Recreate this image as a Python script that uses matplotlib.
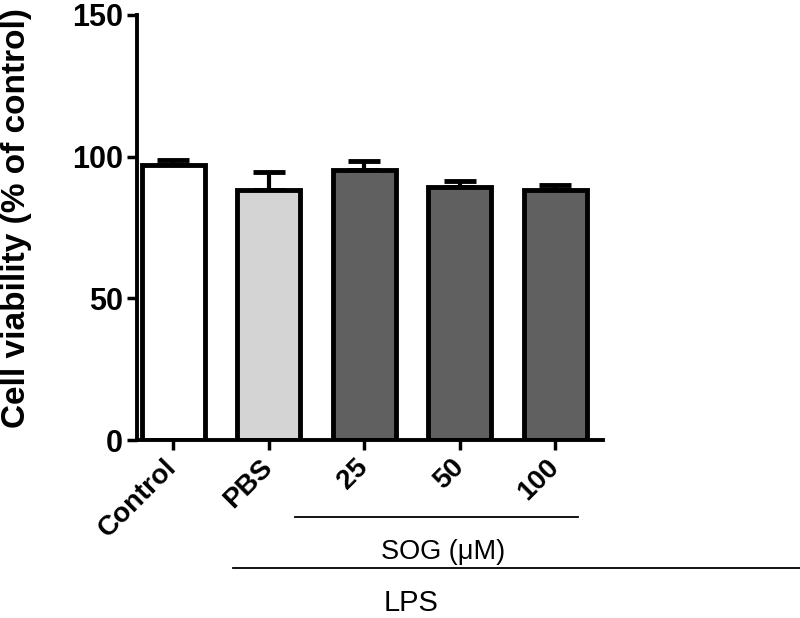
import matplotlib
matplotlib.use("Agg")
import matplotlib.pyplot as plt

categories = ["Control", "PBS", "25", "50", "100"]
values = [97.0, 88.2, 95.3, 89.3, 88.1]
errors = [1.8, 6.4, 3.0, 2.0, 2.0]
colors = ["#ffffff", "#d4d4d4", "#606060", "#606060", "#606060"]
yticks = [0, 50, 100, 150]

plt.rcParams['font.family'] = ['Liberation Sans', 'DejaVu Sans']

fig = plt.figure(figsize=(8, 6.18), dpi=100)
ax = fig.add_axes([0.171, 0.288, 0.583, 0.688])

x = list(range(len(categories)))
ax.errorbar(x, values, yerr=[[0]*len(values), errors], fmt='none',
            ecolor='black', elinewidth=3, capsize=11.5, capthick=3.5, zorder=1)
ax.bar(x, values, width=0.66, color=colors, edgecolor='black', linewidth=3.5, zorder=2)

ax.set_xlim(-0.38, 4.5)
ax.set_ylim(0, 150)
ax.set_yticks(yticks)
ax.set_yticklabels([str(v) for v in yticks], fontsize=22, fontweight='bold')
ax.set_xticks(x)
ax.set_xticklabels(categories, fontsize=20, fontweight='bold', rotation=45,
                   ha='right', va='center', rotation_mode='anchor')
ax.tick_params(axis='both', width=2.5, length=7, direction='out', pad=3)
ax.tick_params(axis='x', pad=10)
for s in ['top', 'right']:
    ax.spines[s].set_visible(False)
for s in ['left', 'bottom']:
    ax.spines[s].set_linewidth(2.8)

fig.text(17/800, 1 - 218/618, "Cell viability (% of control)", rotation=90,
         ha='center', va='center', fontsize=24, fontweight='bold')

tr = ax.get_xaxis_transform()
ax.plot([1.28, 4.24], [-0.181, -0.181], color='black', lw=1.3, transform=tr, clip_on=False)
ax.text(2.82, -0.264, "SOG (\u03bcM)", transform=tr, ha='center', va='center', fontsize=19.5)
ax.plot([0.63, 6.7], [-0.301, -0.301], color='black', lw=1.3, transform=tr, clip_on=False)
ax.text(2.49, -0.384, "LPS", transform=tr, ha='center', va='center', fontsize=21)

fig.savefig("out.png", dpi=100)
